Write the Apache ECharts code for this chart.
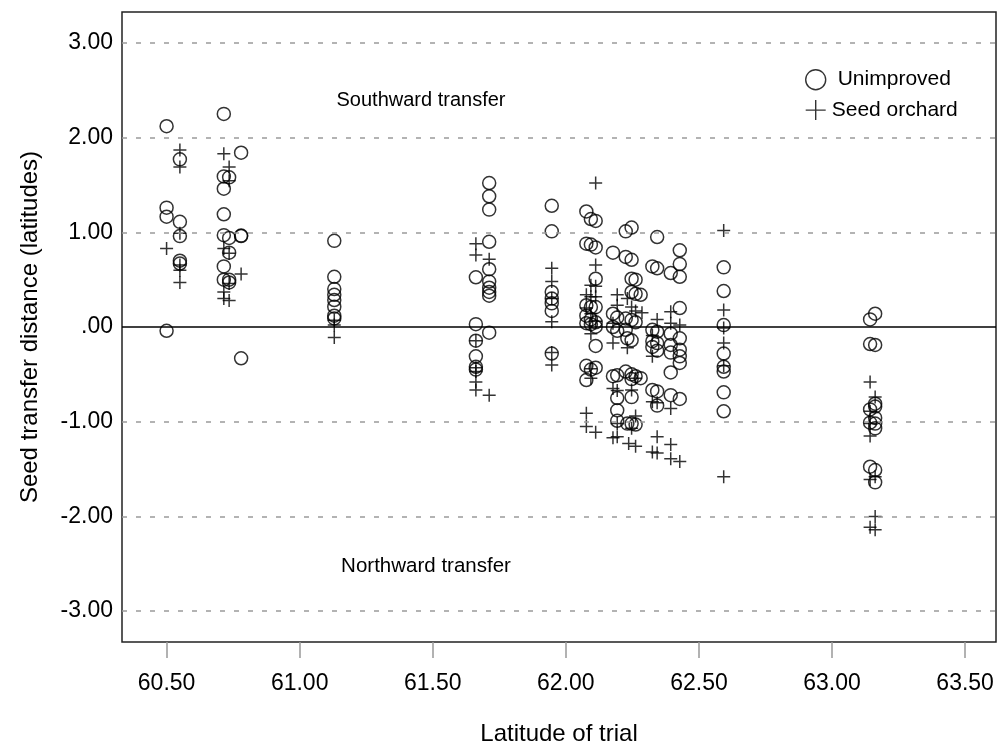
<!DOCTYPE html>
<html>
<head>
<meta charset="utf-8">
<script src="https://cdn.jsdelivr.net/npm/echarts@6/dist/echarts.min.js"></script>
<style>
html,body{margin:0;padding:0;background:#fff;}
#chart{width:997px;height:744px;}
</style>
</head>
<body>
<div id="chart"></div>
<script>
// Trial latitudes (columns of points)
const trialLat = [60.50, 60.55, 60.715, 60.735, 60.78, 61.13, 61.662, 61.712, 61.947, 62.077, 62.094, 62.112, 62.177, 62.193, 62.225, 62.231, 62.236, 62.247, 62.262, 62.281, 62.286, 62.325, 62.343, 62.394, 62.428, 62.593, 63.143, 63.162];

// Unimproved seed transfer distances per trial column
const unimprovedDist = [
  [2.12, 1.26, 1.165, -0.04],
  [1.77, 1.11, 0.96, 0.70, 0.67],
  [2.25, 1.59, 1.46, 1.19, 0.97, 0.64, 0.50],
  [1.58, 0.94, 0.785, 0.50, 0.47],
  [1.84, 0.96, 0.965, -0.33],
  [0.91, 0.53, 0.40, 0.34, 0.285, 0.215, 0.12, 0.09],
  [0.525, 0.03, -0.145, -0.31, -0.42, -0.45],
  [1.52, 1.38, 1.24, 0.90, 0.61, 0.48, 0.415, 0.37, 0.33, -0.06],
  [1.28, 1.01, 0.37, 0.30, 0.25, 0.17, -0.28],
  [1.22, 0.88, 0.23, 0.12, 0.04, -0.41, -0.56],
  [1.14, 0.87, 0.21, 0.08, 0.03, -0.45],
  [1.12, 0.84, 0.51, 0.21, 0.05, 0.003, -0.20, -0.43],
  [0.785, 0.14, 0.0, -0.52],
  [0.10, -0.04, -0.51, -0.75, -0.88, -0.99],
  [1.01, 0.74, 0.09, -0.03, -0.47],
  [-0.12, -1.02],
  [],
  [1.05, 0.71, 0.51, 0.37, 0.075, -0.14, -0.50, -0.55, -0.74, -1.02],
  [0.50, 0.35, 0.05, -0.52, -1.03],
  [0.34, -0.54],
  [],
  [0.64, -0.03, -0.15, -0.21, -0.665],
  [0.95, 0.62, -0.05, -0.17, -0.25, -0.68, -0.83],
  [0.57, -0.07, -0.19, -0.27, -0.48, -0.72],
  [0.81, 0.665, 0.53, 0.20, -0.12, -0.24, -0.31, -0.38, -0.76],
  [0.63, 0.38, 0.02, -0.28, -0.42, -0.47, -0.69, -0.89],
  [0.08, -0.18, -0.87, -1.01, -1.475],
  [0.14, -0.19, -0.81, -0.84, -0.96, -1.02, -1.07, -1.51, -1.64]
];

// Seed orchard seed transfer distances per trial column
const orchardDist = [
  [0.83],
  [1.87, 1.69, 0.99, 0.655, 0.60, 0.47],
  [1.83, 0.83, 0.37, 0.30],
  [1.69, 1.545, 0.78, 0.46, 0.28],
  [0.56],
  [0.07, 0.02, -0.11],
  [0.88, 0.76, -0.145, -0.43, -0.47, -0.58, -0.665],
  [0.715, -0.72],
  [0.62, 0.48, 0.30, 0.056, -0.27, -0.40],
  [0.34, 0.20, -0.91, -1.05],
  [0.44, 0.32, 0.14, -0.07, -0.44, -0.54],
  [1.52, 0.655, 0.43, 0.32, 0.06, -1.11],
  [0.04, -0.17, -0.65, -1.17],
  [0.34, 0.23, -0.67, -1.02, -1.16],
  [],
  [0.30, -0.22],
  [-1.23],
  [0.21, -0.665, -1.07],
  [0.17, -0.54, -0.94, -1.26],
  [],
  [0.15],
  [-0.09, -0.31, -0.79, -1.32],
  [0.08, -0.80, -1.16, -1.33],
  [0.16, 0.04, -0.86, -1.24, -1.39],
  [0.02, -1.42],
  [1.02, 0.18, -0.01, -0.17, -0.41, -1.58],
  [-0.58, -0.89, -1.02, -1.15, -1.61, -2.115],
  [-0.74, -1.58, -2.00, -2.14]
];

const xTicks = [60.5, 61.0, 61.5, 62.0, 62.5, 63.0, 63.5];
const yTicks = [-3, -2, -1, 0, 1, 2, 3];
const dashedRefs = [-3, -2, -1, 1, 2, 3];
const zeroRef = [0];

function pairs(lats, dists) {
  const out = [];
  lats.forEach((lat, i) => dists[i].forEach(d => out.push([lat, d])));
  return out;
}

const FONT = 'Liberation Sans, Arial, Helvetica, sans-serif';
const plusPath = 'path://M0,10L20,10M10,0L10,20';

const chart = echarts.init(document.getElementById('chart'), null, {renderer: 'canvas'});
chart.setOption({
  animation: false,
  backgroundColor: '#fff',
  textStyle: {fontFamily: FONT},
  grid: {left: 122, top: 12, right: 1, bottom: 102, show: true, borderColor: '#222', borderWidth: 1.5,
    backgroundColor: 'transparent', containLabel: false, outerBoundsMode: 'none'},
  xAxis: {
    type: 'value', min: 60.3325, max: 63.616, position: 'bottom',
    name: 'Latitude of trial', nameLocation: 'middle', nameGap: 80,
    nameTextStyle: {fontSize: 24, color: '#000', fontFamily: FONT},
    axisLine: {show: false, onZero: false},
    axisTick: {show: true, inside: false, length: 16, lineStyle: {color: '#999', width: 1.5}, customValues: xTicks},
    axisLabel: {fontSize: 23, color: '#000', margin: 30, fontFamily: FONT, customValues: xTicks, formatter: v => v.toFixed(2)},
    splitLine: {show: false}
  },
  yAxis: {
    type: 'value', min: -3.326, max: 3.326,
    name: 'Seed transfer distance (latitudes)', nameLocation: 'middle', nameGap: 80, nameRotate: 90,
    nameTextStyle: {fontSize: 24, color: '#000', fontFamily: FONT},
    axisLine: {show: false, onZero: false},
    axisTick: {show: false},
    axisLabel: {fontSize: 23, color: '#000', margin: 9, fontFamily: FONT, customValues: yTicks,
      formatter: v => (Math.abs(v) < 1e-9 ? '.00' : v.toFixed(2))},
    splitLine: {show: false}
  },
  legend: {
    orient: 'vertical', left: 800, top: 64, itemWidth: 20, itemHeight: 20, itemGap: 9,
    textStyle: {fontSize: 21, color: '#000', fontFamily: FONT},
    data: [
      {name: 'Unimproved', icon: 'circle', itemStyle: {color: 'rgba(0,0,0,0)', borderColor: '#000', borderWidth: 1.4}, textStyle: {padding: [0, 0, 0, 7]}},
      {name: 'Seed orchard', icon: plusPath, itemStyle: {color: 'rgba(0,0,0,0)', borderColor: '#000', borderWidth: 1.4}, textStyle: {padding: [0, 0, 0, 1]}}
    ]
  },
  graphic: [
    {type: 'text', style: {x: 421, y: 100, text: 'Southward transfer', font: '20px ' + FONT, fill: '#000', textAlign: 'center', textVerticalAlign: 'middle'}},
    {type: 'text', style: {x: 426, y: 566, text: 'Northward transfer', font: '20.5px ' + FONT, fill: '#000', textAlign: 'center', textVerticalAlign: 'middle'}}
  ],
  series: [
    {
      name: 'Unimproved', type: 'scatter', symbol: 'circle', symbolSize: 13,
      itemStyle: {color: 'rgba(0,0,0,0)', borderColor: '#000', borderWidth: 1.5},
      emphasis: {disabled: true},
      data: pairs(trialLat, unimprovedDist),
      markLine: {
        silent: true, symbol: ['none', 'none'], label: {show: false}, animation: false,
        data: dashedRefs.map(v => ({yAxis: v, lineStyle: {type: [5, 9], color: '#9a9a9a', width: 1.5}}))
          .concat(zeroRef.map(v => ({yAxis: v, lineStyle: {type: 'solid', color: '#000', width: 1.5}})))
      },
      z: 3
    },
    {
      name: 'Seed orchard', type: 'scatter', symbol: plusPath, symbolSize: 13,
      itemStyle: {color: 'rgba(0,0,0,0)', borderColor: '#000', borderWidth: 1.5},
      emphasis: {disabled: true},
      data: pairs(trialLat, orchardDist),
      z: 4
    }
  ]
});
</script>
</body>
</html>
